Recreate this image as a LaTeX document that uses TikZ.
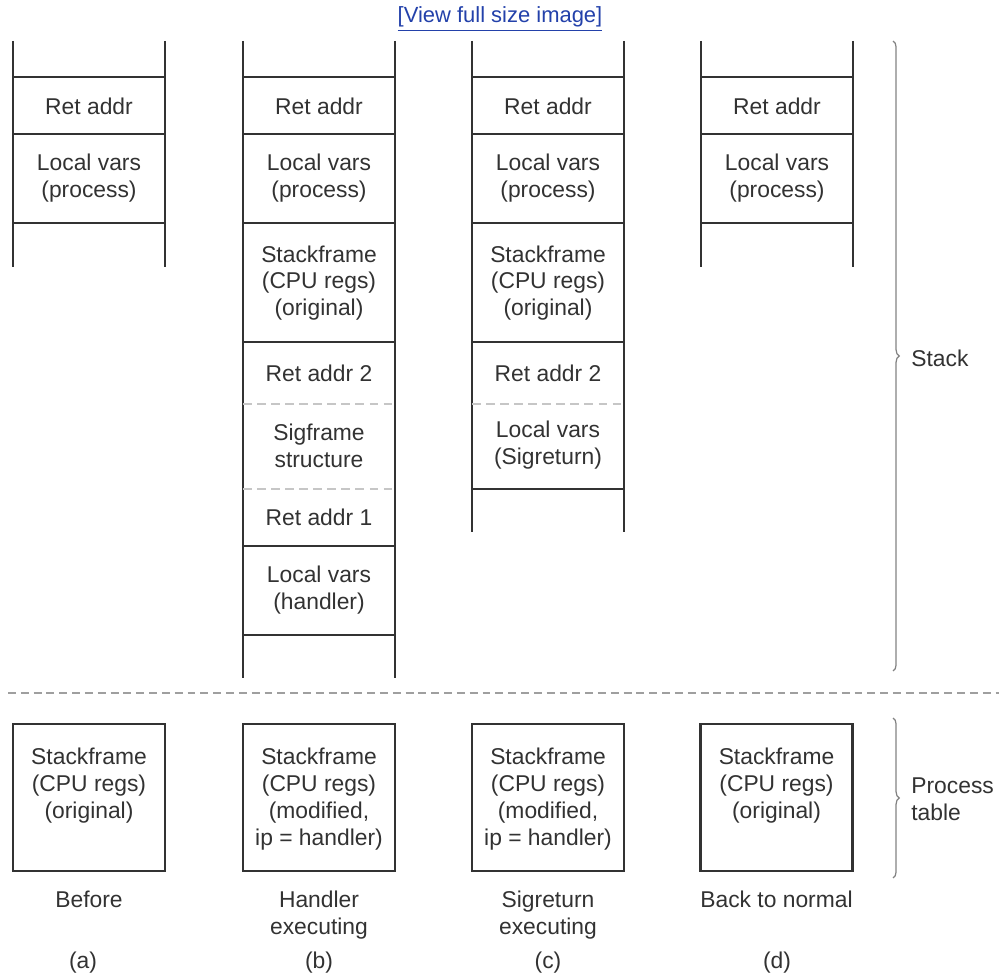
\documentclass[tikz,border=0pt]{standalone}
\usepackage{fontspec}
\setmainfont{Liberation Sans}
\usetikzlibrary{positioning,calc,decorations.pathreplacing}
\definecolor{inkGray}{RGB}{50,50,50}
\definecolor{braceGray}{RGB}{130,130,130}
\definecolor{linkBlue}{RGB}{35,65,170}
\newcommand{\lblfont}{\fontsize{13}{15.3}\selectfont}

\begin{document}
\begin{tikzpicture}[
  x=0.02cm, y=-0.02cm,
  rail/.style={line width=1.5pt, draw=inkGray},
  sep/.style={line width=1.2pt, draw=inkGray},
  softsep/.style={line width=1pt, draw=gray!45, dash pattern=on 5pt off 3pt},
  divider/.style={line width=0.9pt, draw=gray!75, dash pattern=on 4.5pt off 2.8pt},
  cell/.style={align=center, font=\lblfont, text=inkGray, inner sep=0pt},
  ptbox/.style={draw=inkGray, line width=1.5pt, minimum width=3.04cm,
                minimum height=2.94cm, inner sep=0pt},
  bracket/.style={decorate, decoration={brace, amplitude=3.5pt},
                  draw=braceGray, line width=0.7pt}
]
  \useasboundingbox (0,0) rectangle (999,979);

  \node[font=\fontsize{12.5}{15}\selectfont, text=linkBlue, inner sep=0pt]
    (viewLink) at (500,19) {\underline{[View full size image]}};

  % stack columns (a)-(d)
  \foreach \x/\bot in {13/267, 243/678, 472/532, 701/267}{
    \draw[rail] (\x,41) -- (\x,\bot);
    \draw[rail] (\x+152,41) -- (\x+152,\bot);
    \foreach \y in {77,134,223}
      \draw[sep] (\x,\y) -- ++(152,0);
  }
  \foreach \y in {342,546,635}
    \draw[sep] (243,\y) -- ++(152,0);
  \foreach \y in {342,489}
    \draw[sep] (472,\y) -- ++(152,0);
  \foreach \y in {404,489}
    \draw[softsep] (243,\y) -- ++(152,0);
  \draw[softsep] (472,404) -- ++(152,0);

  \foreach \c/\x in {a/89, b/319, c/548, d/777}{
    \node[cell] (\c-ret) at (\x,106) {Ret addr};
    \node[cell] (\c-loc) at (\x,178) {Local vars\\(process)};
  }
  \node[cell] (b-sf)   at (319,283) {Stackframe\\(CPU regs)\\(original)};
  \node[cell] (c-sf)   at (548,283) {Stackframe\\(CPU regs)\\(original)};
  \node[cell] (b-ret2) at (319,373) {Ret addr 2};
  \node[cell] (c-ret2) at (548,373) {Ret addr 2};
  \node[cell] (b-sig)  at (319,446) {Sigframe\\structure};
  \node[cell] (c-lsig) at (548,445) {Local vars\\(Sigreturn)};
  \node[cell] (b-ret1) at (319,517) {Ret addr 1};
  \node[cell] (b-lhd)  at (319,590) {Local vars\\(handler)};

  % stack / process table split
  \coordinate (divL) at (8,693);
  \coordinate (divR) at (999,693);
  \draw[divider] (divL) -- (divR);

  % process table entries
  \node[ptbox] (pa) at (89,797.5) {};
  \node[ptbox] (pb) at (319,797.5) {};
  \node[ptbox] (pc) at (548,797.5) {};
  \node[ptbox] (pd) at (776.5,797.5) {};
  \node[cell, below=0.5cm of pa.north] (pa-txt) {Stackframe\\(CPU regs)\\(original)};
  \node[cell, below=0.5cm of pb.north] (pb-txt) {Stackframe\\(CPU regs)\\(modified,\\ip = handler)};
  \node[cell, below=0.5cm of pc.north] (pc-txt) {Stackframe\\(CPU regs)\\(modified,\\ip = handler)};
  \node[cell, below=0.5cm of pd.north] (pd-txt) {Stackframe\\(CPU regs)\\(original)};

  \node[cell, below=0.37cm of pa.south] (capA) {Before};
  \node[cell, below=0.37cm of pb.south] (capB) {Handler\\executing};
  \node[cell, below=0.37cm of pc.south] (capC) {Sigreturn\\executing};
  \node[cell, below=0.37cm of pd.south] (capD) {Back to normal};
  \node[cell, anchor=north] (tagA) at (83,952)  {(a)};
  \node[cell, anchor=north] (tagB) at (319,952) {(b)};
  \node[cell, anchor=north] (tagC) at (548,952) {(c)};
  \node[cell, anchor=north] (tagD) at (777,952) {(d)};

  % braces
  \coordinate (stTop) at (893,41);
  \coordinate (stBot) at (893,671);
  \coordinate (ptTop) at (893,718);
  \coordinate (ptBot) at (893,878);
  \draw[bracket] (stTop) -- (stBot);
  \draw[bracket] (ptTop) -- (ptBot);
  \node[cell, anchor=west] (stackLbl) at (911,358) {Stack};
  \node[cell, anchor=west, align=left] (ptLbl) at (911,799) {Process\\table};
\end{tikzpicture}
\end{document}
